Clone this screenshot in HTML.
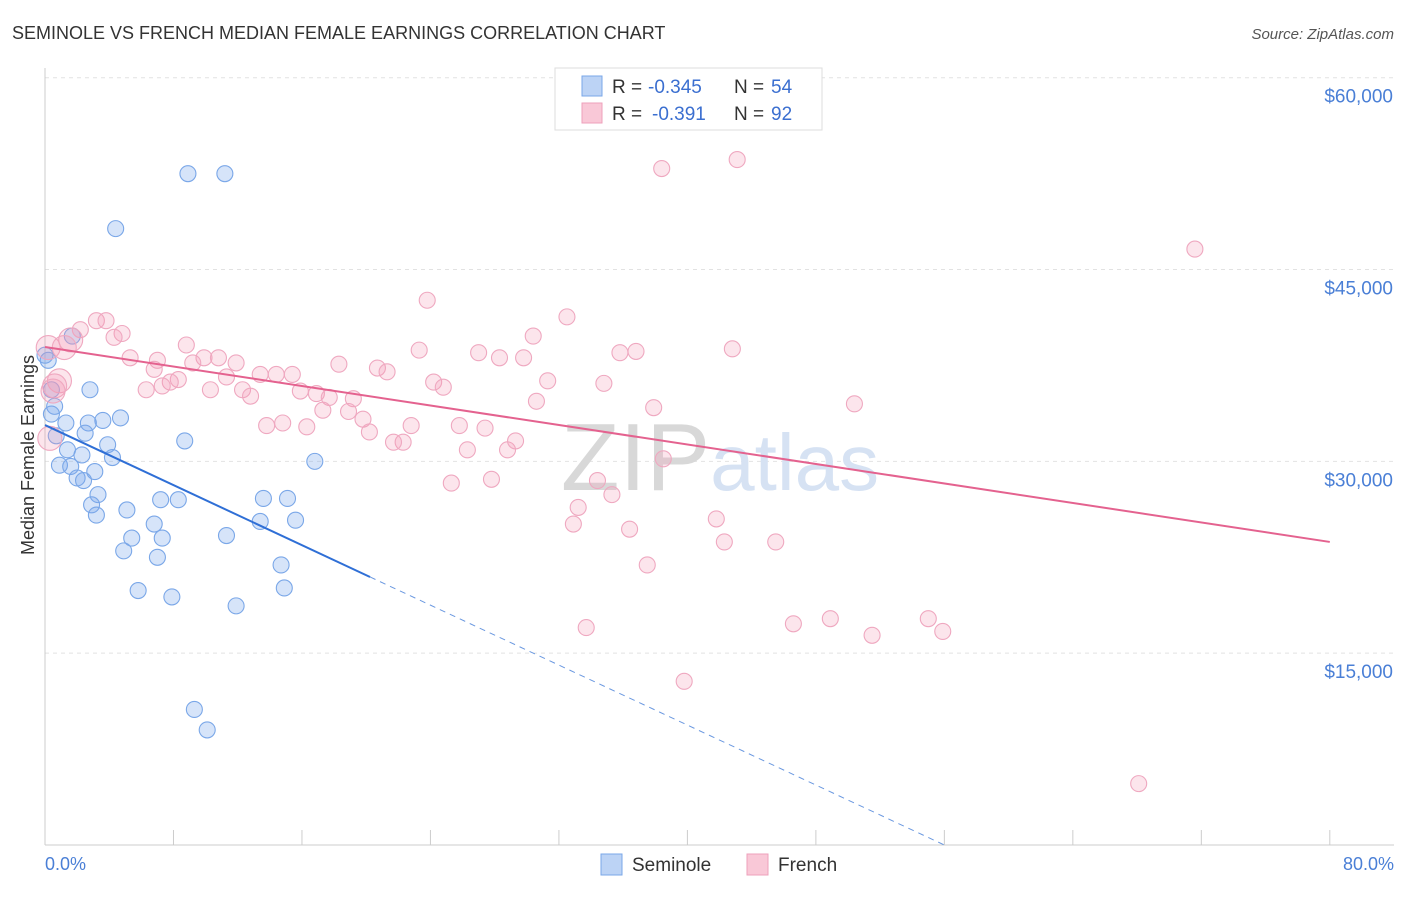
<!DOCTYPE html>
<html><head><meta charset="utf-8"><style>
body{margin:0;background:#fff;font-family:"Liberation Sans",sans-serif;}
svg text{font-family:"Liberation Sans",sans-serif;}
</style></head><body>
<svg id="chart" width="1406" height="892" xmlns="http://www.w3.org/2000/svg">
<text x="12" y="39" font-size="18" fill="#333">SEMINOLE VS FRENCH MEDIAN FEMALE EARNINGS CORRELATION CHART</text>
<text x="1394" y="39" font-size="15" fill="#555" font-style="italic" text-anchor="end">Source: ZipAtlas.com</text>
<g id="grid"></g>
<text x="720" y="490" font-size="96" fill="#e4e4e4" text-anchor="middle" font-family="Liberation Serif"><tspan fill="#d8d8d8">ZIP</tspan><tspan fill="#d6e2f3" font-family="Liberation Sans" font-size="80">atlas</tspan></text>
<g id="axes"></g>
<g id="pts"></g>
<g id="lines"></g>
<text x="34" y="455" font-size="18" fill="#333" text-anchor="middle" transform="rotate(-90 34 455)">Median Female Earnings</text>
<text x="45" y="870" font-size="18" fill="#4a7fd6">0.0%</text>
<text x="1394" y="870" font-size="18" fill="#4a7fd6" text-anchor="end">80.0%</text>
<g>
<rect x="555" y="68" width="267" height="62" fill="#fff" stroke="#ddd"/>
<rect x="582" y="76" width="20" height="20" fill="#bcd3f5" stroke="#7aa7e8"/>
<rect x="582" y="103" width="20" height="20" fill="#f9c8d7" stroke="#eea0bb"/>
<text x="612" y="93" font-size="19" fill="#333">R =</text>
<text x="648" y="93" font-size="19" fill="#3b6fd0">-0.345</text>
<text x="734" y="93" font-size="19" fill="#333">N =</text>
<text x="771" y="93" font-size="19" fill="#3b6fd0">54</text>
<text x="612" y="120" font-size="19" fill="#333">R =</text>
<text x="652" y="120" font-size="19" fill="#3b6fd0">-0.391</text>
<text x="734" y="120" font-size="19" fill="#333">N =</text>
<text x="771" y="120" font-size="19" fill="#3b6fd0">92</text>
</g>
<g>
<rect x="601" y="854" width="21" height="21" fill="#bcd3f5" stroke="#7aa7e8"/>
<text x="632" y="871" font-size="19" fill="#333">Seminole</text>
<rect x="747" y="854" width="21" height="21" fill="#f9c8d7" stroke="#eea0bb"/>
<text x="778" y="871" font-size="19" fill="#333">French</text>
</g>
</svg>
<script>
const yTicks=[15000,30000,45000,60000];
const yTickLabels=["$15,000","$30,000","$45,000","$60,000"];
const xTicks=[0,8,16,24,32,40,48,56,64,72,80];
const seminoleX=[8.9,11.2,4.4,1.7,2.8,0.6,0.4,4.7,3.6,1.3,2.7,0.7,2.5,8.7,3.9,1.4,4.2,2.3,0.9,1.6,3.1,2.0,2.4,3.3,16.8,2.9,5.1,3.2,7.2,8.3,13.6,15.1,6.8,13.4,15.6,5.4,7.3,11.3,4.9,7.0,14.7,5.8,14.9,7.9,11.9,9.3,10.1,0.2,0.4,0.0];
const seminoleY=[52500,52500,48200,39800,35600,34300,33700,33400,33200,33000,33000,32000,32200,31600,31300,30900,30300,30500,29700,29600,29200,28700,28500,27400,30000,26600,26200,25800,27000,27000,27100,27100,25100,25300,25400,24000,24000,24200,23000,22500,21900,19900,20100,19400,18700,10600,9000,37900,35600,38300];
const frenchX=[38.4,43.1,71.6,23.8,32.5,3.2,3.8,2.2,4.8,4.3,30.4,1.6,8.8,23.3,27.0,28.3,29.8,35.8,36.8,42.8,5.3,7.0,9.9,10.8,11.9,9.2,18.3,20.7,21.3,6.8,13.4,14.4,15.4,11.3,8.3,7.8,7.3,6.3,10.3,12.3,12.8,15.9,16.9,17.7,19.2,24.2,24.8,31.3,34.8,0.9,0.6,0.5,17.3,18.9,19.8,30.6,37.9,50.4,13.8,14.8,16.3,20.2,22.8,25.8,27.4,22.3,21.7,26.3,28.8,29.3,38.5,25.3,27.8,34.4,35.3,33.2,32.9,36.4,41.8,42.3,45.5,37.5,46.6,48.9,55.0,55.9,33.7,51.5,39.8,68.1,0.3,0.2,1.2];
const frenchY=[52900,53600,46600,42600,41300,41000,41000,40300,40000,39700,39800,39500,39100,38700,38500,38100,38100,38500,38600,38800,38100,37900,38100,38100,37700,37700,37600,37300,37000,37200,36800,36800,36800,36600,36400,36200,35900,35600,35600,35600,35100,35500,35300,35000,34900,36200,35800,36300,36100,36300,35900,35500,34000,33900,33300,34700,34200,34500,32800,33000,32700,32300,32800,32800,32600,31500,31500,30900,30900,31600,30200,28300,28600,28500,27400,26400,25100,24700,25500,23700,23700,21900,17300,17700,17700,16700,17000,16400,12800,4800,31800,38900,38900];
const semTrend=[32840,20960,0], semTrendX=[0,20.24,56];
const frTrend=[38940,23700], frTrendX=[0,80];
const X=v=>45+v*16.06, Y=v=>845-v/78.2;
const NS="http://www.w3.org/2000/svg";
function mk(tag,attrs,parent){const e=document.createElementNS(NS,tag);for(const k in attrs)e.setAttribute(k,attrs[k]);parent.appendChild(e);return e;}
const grid=document.getElementById('grid'),axes=document.getElementById('axes'),pts=document.getElementById('pts'),lines=document.getElementById('lines');
yTicks.forEach((t,i)=>{
 const l=mk('line',{x1:45,x2:1394,y1:Y(t),y2:Y(t),stroke:'#e2e2e2','stroke-dasharray':'4,4'},grid);
 
 
 const tx=mk('text',{x:1393,y:Y(t)+25,'font-size':19,fill:'#4a7fd6','text-anchor':'end'},axes);
 tx.textContent=yTickLabels[i];
 
 
});
const ya=mk('line',{x1:45,x2:45,y1:68,y2:845,stroke:'#ccc'},axes);


const xa=mk('line',{x1:45,x2:1394,y1:845,y2:845,stroke:'#ccc'},axes);


xTicks.forEach(t=>{
 const l=mk('line',{x1:X(t),x2:X(t),y1:830,y2:845,stroke:'#ccc'},axes);
 
 
});
seminoleX.forEach((v,i)=>{
 const c=mk('circle',{cx:X(v),cy:Y(seminoleY[i]),r:8,fill:'rgba(120,165,235,0.3)',stroke:'#7aa7e8','stroke-width':1.1},pts);
 
 
});
frenchX.forEach((v,i)=>{
 const c=mk('circle',{cx:X(v),cy:Y(frenchY[i]),r:(i>=frenchX.length-3||(v<2&&frenchY[i]>35000))?12:8,fill:'rgba(242,150,180,0.25)',stroke:'#efa8c0','stroke-width':1.1},pts);
 
 
});
const s1=mk('line',{x1:X(semTrendX[0]),y1:Y(semTrend[0]),x2:X(semTrendX[1]),y2:Y(semTrend[1]),stroke:'#2f6fd6','stroke-width':2},lines);


const s2=mk('line',{x1:X(semTrendX[1]),y1:Y(semTrend[1]),x2:X(semTrendX[2]),y2:Y(semTrend[2]),stroke:'#6a98e0','stroke-width':1,'stroke-dasharray':'6,5'},lines);


const f1=mk('line',{x1:X(frTrendX[0]),y1:Y(frTrend[0]),x2:X(frTrendX[1]),y2:Y(frTrend[1]),stroke:'#e4628f','stroke-width':2},lines);


</script>
</body></html>
